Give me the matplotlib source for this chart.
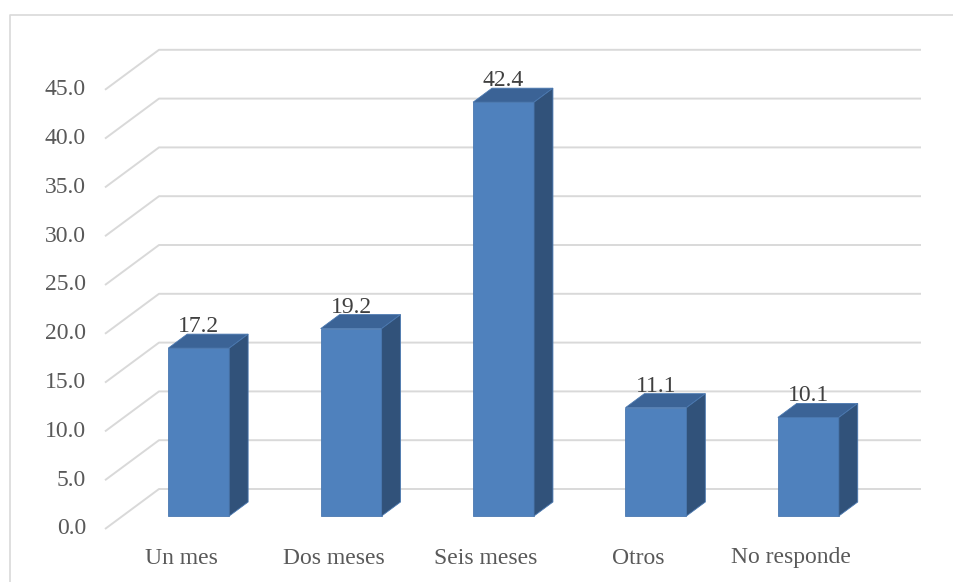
import matplotlib
matplotlib.use("Agg")
import matplotlib.pyplot as plt
from matplotlib.patches import Polygon
from matplotlib.lines import Line2D

categories = ["Un mes", "Dos meses", "Seis meses", "Otros", "No responde"]
values = [17.2, 19.2, 42.4, 11.1, 10.1]
y_ticks = [0, 5, 10, 15, 20, 25, 30, 35, 40, 45]

plt.rcParams["font.family"] = ["Liberation Serif", "DejaVu Serif"]

W, H = 954, 582
fig = plt.figure(figsize=(W / 100, H / 100), dpi=100)
ax = fig.add_axes([0, 0, 1, 1])
ax.axis("off")

# pixel layout of the front plane of the 3D box
px_left, px_right, px_zero, px_per_unit = 105, 867, 529, 9.76
cat_px = (px_right - px_left) / len(categories)
depth_dx = 54 / cat_px          # oblique depth in category units
depth_dy = 40 / px_per_unit     # oblique depth in value units

ax.set_xlim(-0.5 - px_left / cat_px, -0.5 + (W - px_left) / cat_px)
ax.set_ylim(-(H - px_zero) / px_per_unit, px_zero / px_per_unit)

grid_col = "#D9D9D9"
x0 = -0.5
x1 = len(categories) - 0.5
for v in y_ticks:
    ax.plot([x0, x0 + depth_dx, x1 + depth_dx], [v, v + depth_dy, v + depth_dy],
            color=grid_col, lw=1.4, zorder=1, solid_capstyle="butt")
    ax.text(x0 - 19 / cat_px, v, f"{v:.1f}", ha="right", va="center",
            fontsize=17, color="#595959")

# bars: front face, top and right side
t0, t1, bw = 0.325, 0.675, 0.4
front_col, top_col, side_col = "#4F81BD", "#3B6396", "#31527A"
for i, v in enumerate(values):
    xl = i - bw / 2 + t0 * depth_dx
    xr = xl + bw
    b0 = t0 * depth_dy
    ddx = (t1 - t0) * depth_dx
    ddy = (t1 - t0) * depth_dy
    ax.bar(xl, v, width=bw, bottom=b0, align="edge", color=front_col,
           edgecolor="#4A78B0", lw=0.6, zorder=3)
    top = [(xl, v + b0), (xr, v + b0), (xr + ddx, v + b0 + ddy), (xl + ddx, v + b0 + ddy)]
    side = [(xr, b0), (xr + ddx, b0 + ddy), (xr + ddx, v + b0 + ddy), (xr, v + b0)]
    ax.add_patch(Polygon(top, closed=True, facecolor=top_col, edgecolor="#4A78B0",
                         lw=0.6, zorder=3))
    ax.add_patch(Polygon(side, closed=True, facecolor=side_col, edgecolor="#4A78B0",
                         lw=0.6, zorder=3))
    ax.text(xl + bw / 2, v + b0 + ddy + 0.2, f"{v:.1f}", ha="center", va="baseline",
            fontsize=17, color="#404040", zorder=4)

for i, c in enumerate(categories):
    ax.text(i, -(558 - px_zero) / px_per_unit, c, ha="center", va="center",
            fontsize=17, color="#595959")

# chart area border (top and left edges visible)
fig.add_artist(Line2D([10 / W, 10 / W, 1], [0, 1 - 15 / H, 1 - 15 / H],
                      transform=fig.transFigure, color="#D9D9D9", lw=1.2))

fig.savefig("out.png", dpi=100)
